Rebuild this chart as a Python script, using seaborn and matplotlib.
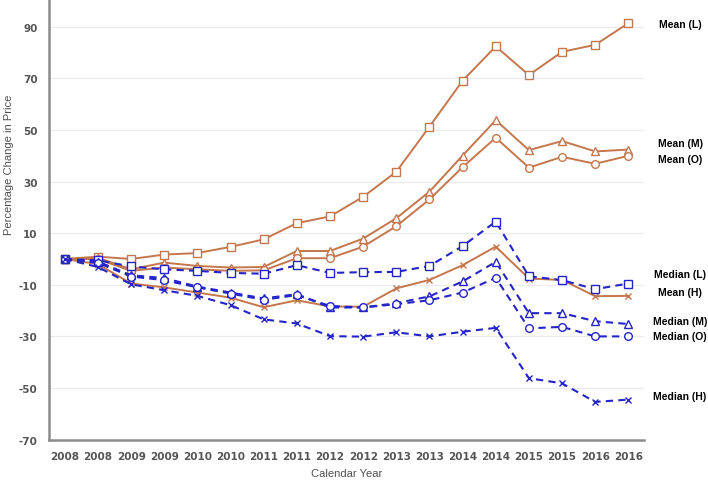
import matplotlib
matplotlib.use("Agg")
import matplotlib.pyplot as plt
import seaborn as sns
import numpy as np

periods = ["2008", "2008", "2009", "2009", "2010", "2010", "2011", "2011", "2012",
           "2012", "2013", "2013", "2014", "2014", "2015", "2015", "2016", "2016"]

mean_L = [0, 0.9, 0, 1.7, 2.3, 4.7, 7.6, 13.9, 16.5, 24.1, 33.8, 51.3, 69.1, 82.4, 71.3, 80.3, 83.0, 91.4]
mean_M = [0, 0.5, -4.0, -1.4, -2.7, -3.3, -3.1, 3.1, 3.1, 7.9, 15.8, 26.1, 40.1, 53.8, 42.2, 45.7, 41.7, 42.4]
mean_O = [0, 0, -4.6, -3.3, -4.0, -4.6, -4.4, 0.3, 0.3, 4.8, 12.7, 23.1, 35.6, 47.0, 35.4, 39.6, 36.9, 40.0]
mean_H = [0, -2.0, -9.5, -11.0, -13.0, -15.0, -18.7, -16.0, -18.4, -18.5, -11.4, -8.1, -2.4, 4.8, -7.6, -8.1, -14.4, -14.3]
median_L = [0, -0.5, -2.9, -4.0, -4.6, -5.4, -5.7, -2.4, -5.4, -5.1, -5.0, -2.7, 5.0, 14.5, -6.7, -8.2, -11.7, -9.5]
median_M = [0, -1.0, -6.3, -7.4, -10.7, -13.0, -15.3, -13.6, -18.8, -18.8, -17.1, -14.5, -8.7, -1.1, -21.0, -21.0, -24.1, -25.2]
median_O = [0, -1.5, -6.8, -8.2, -11.0, -13.4, -15.8, -14.0, -18.2, -18.8, -17.5, -16.0, -13.0, -7.3, -26.9, -26.3, -30.0, -30.0]
median_H = [0, -3.1, -9.8, -12.1, -14.3, -17.9, -23.4, -25.0, -29.9, -30.1, -28.4, -30.0, -28.2, -26.7, -46.2, -48.2, -55.4, -54.5]

series_names = ["Mean (L)", "Mean (M)", "Mean (O)", "Mean (H)",
                "Median (L)", "Median (M)", "Median (O)", "Median (H)"]
series_values = [mean_L, mean_M, mean_O, mean_H, median_L, median_M, median_O, median_H]
label_y = [91.2, 44.8, 38.6, -12.9, -5.9, -24.1, -29.9, -53.1]

ORANGE = "#C4764D"
BLUE = "#2424C8"
markers = ["s", "^", "o", "x", "s", "^", "o", "x"]

sns.set_style("white")
plt.rcParams["font.family"] = ["DejaVu Sans"]
plt.rcParams["axes.unicode_minus"] = False

fig = plt.figure(figsize=(7.08, 4.81), dpi=100)
ax = fig.add_axes([0.069, 0.084, 0.841, 0.914])

x = np.arange(len(periods))
for i, (name, vals) in enumerate(zip(series_names, series_values)):
    is_mean = name.startswith("Mean")
    col = ORANGE if is_mean else BLUE
    mk = markers[i]
    kw = dict(marker=mk, markersize=5.5 if mk != "x" else 5,
              markeredgecolor=col, markeredgewidth=1.0)
    if mk != "x":
        kw["markerfacecolor"] = "white"
    sns.lineplot(x=x, y=vals, ax=ax, color=col,
                 linewidth=1.4 if is_mean else 1.5,
                 linestyle="-" if is_mean else (0, (3.5, 2.5)),
                 **kw)

for name, ly in zip(series_names, label_y):
    ax.annotate(name, xy=(1.06, ly), xycoords=("axes fraction", "data"),
                ha="center", va="center", fontsize=7.5, fontweight="bold",
                family="Liberation Sans", color="black", annotation_clip=False)

ax.set_xlim(-0.48, 17.48)
ax.set_ylim(-70, 100.4)
ax.set_yticks(np.arange(-70, 91, 20))
ax.set_xticks(x)
ax.set_xticklabels(periods)
ax.tick_params(axis="both", length=0, labelsize=7.5, labelcolor="#555555")
ax.tick_params(axis="x", pad=8)
ax.tick_params(axis="y", pad=8)
for lab in ax.get_xticklabels() + ax.get_yticklabels():
    lab.set_fontweight("bold")

ax.yaxis.grid(True, color="#EBEBEB", linewidth=0.8)
ax.set_axisbelow(True)
for s in ["top", "right"]:
    ax.spines[s].set_visible(False)
for s in ["left", "bottom"]:
    ax.spines[s].set_color("#8C8C8C")
    ax.spines[s].set_linewidth(1.8)

ax.set_xlabel("Calendar Year", fontsize=8, color="#505050", family="Liberation Sans", labelpad=5)
ax.set_ylabel("Percentage Change in Price", fontsize=8, color="#505050", family="Liberation Sans")
ax.yaxis.set_label_coords(-0.058, 0.627)

fig.savefig("out.png", dpi=100)
